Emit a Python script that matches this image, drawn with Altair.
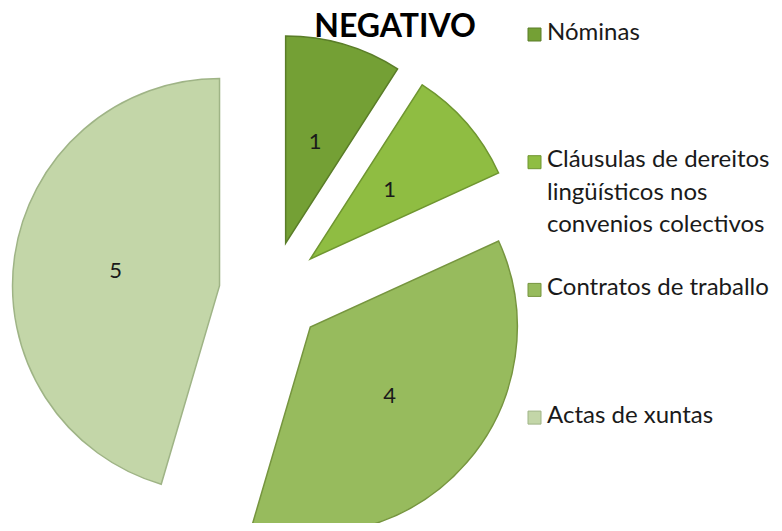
import altair as alt
import pandas as pd

categories = ["Nóminas", "Cláusulas de dereitos lingüísticos nos convenios colectivos",
              "Contratos de traballo", "Actas de xuntas"]
legend_labels = ["Nóminas", "Cláusulas de dereitos\nlingüísticos nos\nconvenios colectivos",
                 "Contratos de traballo", "Actas de xuntas"]
values = [1, 1, 4, 5]
colors = ["#74a035", "#8fbd42", "#97bb5d", "#c3d6a8"]
strokes = ["#5a7d28", "#6f9630", "#76953f", "#9fb486"]

df = pd.DataFrame({"category": categories, "label": legend_labels, "value": values,
                   "order": list(range(len(categories)))})

CX, CY, R, EXPLODE, LR = 263, 285, 207, 52, 105
LEG_X, LEG_TX, LEG_Y0, LEG_STEP = 526.5, 539, 26.5, 127.7

base = alt.Chart(df).transform_window(
    cum="sum(value)", idx="row_number()", sort=[alt.SortField("order")]
).transform_joinaggregate(total="sum(value)").transform_calculate(
    start="2*PI*(datum.cum - datum.value)/datum.total",
    end="2*PI*datum.cum/datum.total",
).transform_calculate(
    mid="(datum.start + datum.end)/2",
).transform_calculate(
    cx=f"{CX} + {EXPLODE}*sin(datum.mid)",
    cy=f"{CY} - {EXPLODE}*cos(datum.mid)",
    ly=f"{LEG_Y0} + (datum.idx - 1)*{LEG_STEP}",
)

color = alt.Color("category:N", scale=alt.Scale(domain=categories, range=colors), legend=None)
stroke = alt.Stroke("category:N", scale=alt.Scale(domain=categories, range=strokes), legend=None)

arcs = base.mark_arc(outerRadius=R, strokeWidth=1.5).encode(
    x=alt.X("cx:Q", scale=None), y=alt.Y("cy:Q", scale=None),
    theta=alt.Theta("start:Q", scale=None), theta2="end:Q",
    color=color, stroke=stroke,
)

nums = base.mark_text(radius=LR, fontSize=22, font="Lato", color="#1a1a1a").encode(
    x=alt.X("cx:Q", scale=None), y=alt.Y("cy:Q", scale=None),
    theta=alt.Theta("mid:Q", scale=None),
    text="value:Q",
)

leg_sq = base.mark_square(size=169, opacity=1, strokeWidth=1).encode(
    x=alt.value(LEG_X), y=alt.Y("ly:Q", scale=None), color=color, stroke=stroke,
)

leg_txt = base.mark_text(align="left", baseline="top", dy=-14, fontSize=24, font="Lato",
                         lineHeight=32.5, lineBreak="\n", color="#1a1a1a").encode(
    x=alt.value(LEG_TX), y=alt.Y("ly:Q", scale=None), text="label:N",
)

title = alt.Chart(pd.DataFrame({"t": ["NEGATIVO"]})).mark_text(
    fontSize=32, fontWeight="bold", font="Lato", color="#000000", baseline="middle"
).encode(x=alt.value(387), y=alt.value(19), text="t:N")

chart = alt.layer(arcs, nums, leg_sq, leg_txt, title).properties(
    width=766, height=515, padding=0, autosize="none"
).configure_view(stroke=None)

chart.save("out.html", embed_options={"renderer": "svg", "actions": False})
